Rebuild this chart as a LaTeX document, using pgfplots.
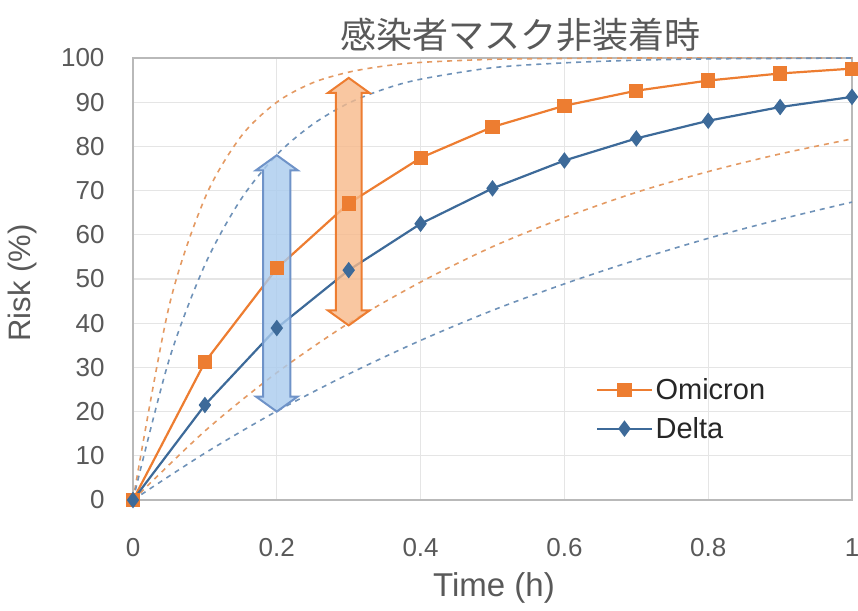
\documentclass[border=0pt]{standalone}
\usepackage{pgfplots}
\pgfplotsset{compat=1.18}
\usepackage{fontspec}
\setmainfont{Liberation Sans}
\newfontfamily\cjk{Noto Sans CJK JP}
\definecolor{om}{HTML}{ED7D31}
\definecolor{omd}{HTML}{E49A63}
\definecolor{omfill}{HTML}{F7B98A}
\definecolor{de}{HTML}{3D6A99}
\definecolor{ded}{HTML}{6F92B8}
\definecolor{defill}{HTML}{A9CBEE}
\definecolor{dedge}{HTML}{6F93C8}
\definecolor{txt}{HTML}{595959}
\begin{document}
\begin{tikzpicture}
\begin{axis}[
  at={(0,0)}, anchor=south west,
  scale only axis, width=719pt, height=442pt,
  xmin=0, xmax=1, ymin=0, ymax=100,
  xtick={0,0.2,0.4,0.6,0.8,1}, xticklabels={0,0.2,0.4,0.6,0.8,1},
  ytick={0,10,...,100},
  /pgf/number format/assume math mode=true,
  tick style={draw=none},
  grid=major, major grid style={draw=gray!20, line width=1.2pt},
  axis line style={draw=gray!55, line width=2pt},
  xticklabel style={font=\fontsize{26}{30}\selectfont, text=txt, anchor=center, yshift=-48pt},
  yticklabel style={font=\fontsize{26}{30}\selectfont, text=txt, anchor=east, xshift=-25pt},
  legend style={at={(0.64,0.205)}, anchor=west, draw=none, fill=none,
    font=\fontsize{29}{34}\selectfont, text=black!85, row sep=12pt},
  legend cell align=left,
  legend image code/.code={\draw[#1] (0pt,0pt) -- (55pt,0pt); \draw[#1, only marks] plot coordinates {(27pt,0pt)};},
  clip=false,
]
% dashed bounds
\addplot[forget plot, omd, line width=1.6pt, dash pattern=on 5pt off 5pt, smooth] coordinates {
(0,0)(0.05,43.7)(0.1,68.3)(0.15,82.2)(0.2,90)(0.25,94.4)(0.3,96.8)(0.35,98.2)(0.4,99)(0.5,99.7)(0.6,99.9)(0.7,100)(0.8,100)(0.9,100)(1,100)};
\addplot[forget plot, ded, line width=1.6pt, dash pattern=on 5pt off 5pt, smooth] coordinates {
(0,0)(0.05,31.6)(0.1,53.2)(0.15,68)(0.2,78.1)(0.25,85)(0.3,89.8)(0.35,93)(0.4,95.2)(0.5,97.8)(0.6,98.9)(0.7,99.5)(0.8,99.8)(0.9,99.9)(1,100)};
\addplot[forget plot, omd, line width=1.6pt, dash pattern=on 5pt off 5pt, smooth] coordinates {
(0,0)(0.1,15.6)(0.2,28.8)(0.3,40)(0.4,49.3)(0.5,57.3)(0.6,63.9)(0.7,69.6)(0.8,74.3)(0.9,78.3)(1,81.7)};
\addplot[forget plot, ded, line width=1.6pt, dash pattern=on 5pt off 5pt, smooth] coordinates {
(0,0)(0.1,10.6)(0.2,20.1)(0.3,28.5)(0.4,36.1)(0.5,42.9)(0.6,48.9)(0.7,54.3)(0.8,59.2)(0.9,63.5)(1,67.4)};
% main series
\addplot[om, line width=2.2pt, mark=square*, mark size=6pt, mark options={fill=om, draw=om}] coordinates {
(0,0)(0.1,31.2)(0.2,52.4)(0.3,67.1)(0.4,77.4)(0.5,84.4)(0.6,89.2)(0.7,92.6)(0.8,94.9)(0.9,96.5)(1,97.6)};
\addlegendentry{Omicron}
\addplot[de, line width=2.2pt, mark=diamond*, mark size=6.5pt, mark options={fill=de, draw=de}] coordinates {
(0,0)(0.1,21.5)(0.2,38.9)(0.3,52)(0.4,62.5)(0.5,70.5)(0.6,76.8)(0.7,81.8)(0.8,85.8)(0.9,88.9)(1,91.2)};
\addlegendentry{Delta}
% range arrows
\addplot[forget plot, fill=defill, fill opacity=0.8, draw=dedge, line width=2pt] coordinates {
(0.2,20)(0.229,23.4)(0.219,23.4)(0.219,74.6)(0.229,74.6)(0.2,78)(0.171,74.6)(0.181,74.6)(0.181,23.4)(0.171,23.4)} -- cycle;
\addplot[forget plot, fill=omfill, fill opacity=0.8, draw=om, line width=2pt] coordinates {
(0.3,39.5)(0.329,42.9)(0.318,42.9)(0.318,92.1)(0.329,92.1)(0.3,95.5)(0.271,92.1)(0.282,92.1)(0.282,42.9)(0.271,42.9)} -- cycle;
\end{axis}
\node[text=txt, font=\cjk\fontsize{36}{40}\selectfont] at (387pt,465pt) {感染者マスク非装着時};
\node[text=txt, font=\fontsize{33}{38}\selectfont] at (361pt,-88pt) {Time (h)};
\node[text=txt, font=\fontsize{31}{36}\selectfont, rotate=90] at (-111pt,217pt) {Risk (\%)};
\pgfresetboundingbox
\path[use as bounding box] (-133pt,-110pt) rectangle (725pt,500pt);
\end{tikzpicture}
\end{document}
